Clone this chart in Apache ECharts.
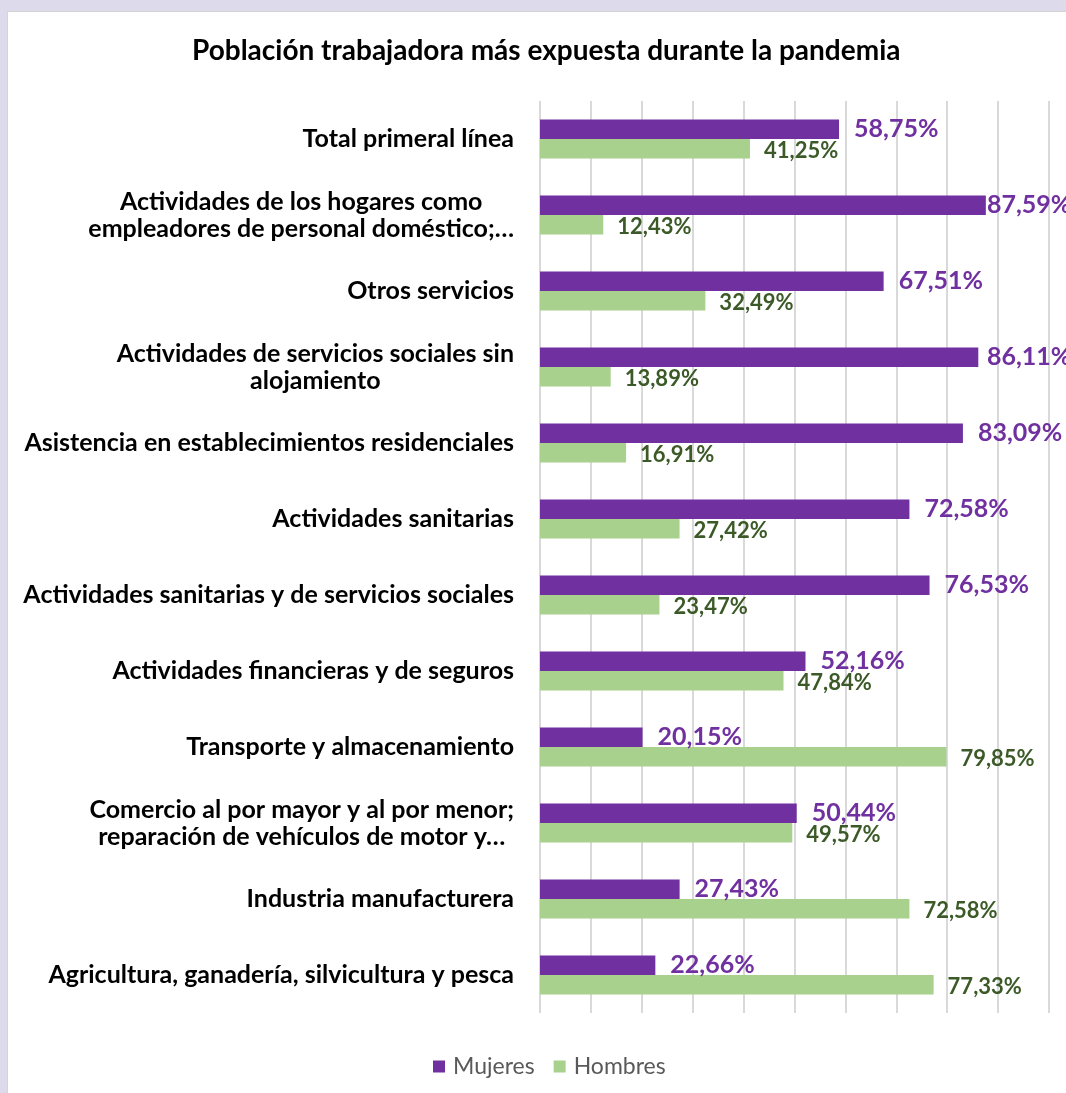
<!DOCTYPE html>
<html>
<head>
<meta charset="utf-8">
<script src="https://cdn.jsdelivr.net/npm/echarts@6/dist/echarts.min.js"></script>
<style>
  html, body { margin: 0; padding: 0; background: #DDDAEB; }
  #panel { position: absolute; left: 7px; top: 11px; width: 1100px; height: 1100px; background: #fff; border-left: 1px solid #d4d4d4; border-top: 1px solid #d4d4d4; }
  #chart { position: absolute; left: 0; top: 0; width: 1066px; height: 1093px; }
</style>
</head>
<body>
<div id="panel"></div>
<div id="chart"></div>
<script>
const titleText = 'Población trabajadora más expuesta durante la pandemia';
const categories = [
  'Total primeral línea',
  'Actividades de los hogares como\nempleadores de personal doméstico;…',
  'Otros servicios',
  'Actividades de servicios sociales sin\nalojamiento',
  'Asistencia en establecimientos residenciales',
  'Actividades sanitarias',
  'Actividades sanitarias y de servicios sociales',
  'Actividades financieras y de seguros',
  'Transporte y almacenamiento',
  'Comercio al por mayor y al por menor;\nreparación de vehículos de motor y…',
  'Industria manufacturera',
  'Agricultura, ganadería, silvicultura y pesca'
];
const mujeres = [58.75, 87.59, 67.51, 86.11, 83.09, 72.58, 76.53, 52.16, 20.15, 50.44, 27.43, 22.66];
const hombres = [41.25, 12.43, 32.49, 13.89, 16.91, 27.42, 23.47, 47.84, 79.85, 49.57, 72.58, 77.33];
const seriesNames = ['Mujeres', 'Hombres'];

const PURPLE = '#7030A0';
const GREEN = '#A9D18E';
const GREEN_TXT = '#3B5A27';
const FONT = 'Lato, "Noto Sans", sans-serif';

const fmt = v => v.toFixed(2).replace('.', ',') + '%';

const chart = echarts.init(document.getElementById('chart'), null, { renderer: 'canvas' });

function buildOption(mujData) {
  return {
    backgroundColor: 'transparent',
    animation: false,
    title: {
      text: titleText,
      left: 187,
      top: 32,
      textStyle: { fontFamily: FONT, fontWeight: 'bold', fontSize: 28, color: '#000' }
    },
    legend: {
      data: seriesNames,
      bottom: 10,
      left: 428,
      icon: 'rect',
      itemWidth: 12,
      itemHeight: 12,
      itemGap: 19,
      textStyle: { fontFamily: FONT, fontSize: 23, color: '#595959', padding: [0, 0, 0, 3] }
    },
    grid: { left: 540, right: 17, top: 101, bottom: 80, containLabel: false, outerBoundsMode: 'none' },
    xAxis: {
      type: 'value',
      min: 0,
      max: 100,
      interval: 10,
      axisLabel: { show: false },
      axisLine: { show: false },
      axisTick: { show: false },
      splitLine: { show: true, lineStyle: { color: '#D9D9D9', width: 2 } }
    },
    yAxis: {
      type: 'category',
      inverse: true,
      data: categories,
      axisLine: { show: false },
      axisTick: { show: false },
      axisLabel: {
        margin: 26,
        color: '#000',
        fontFamily: FONT,
        fontWeight: 'bold',
        fontSize: 25,
        formatter: v => v.split('\n').map(s => '{c|' + s + '}').join('\n'),
        rich: {
          c: { align: 'center', fontFamily: FONT, fontWeight: 'bold', fontSize: 25, lineHeight: 27, color: '#000' }
        }
      }
    },
    series: [
      {
        name: seriesNames[0],
        type: 'bar',
        data: mujData,
        itemStyle: { color: PURPLE },
        barGap: '0%',
        barCategoryGap: '49%',
        label: {
          show: true,
          position: 'right',
          distance: 15,
          color: PURPLE,
          fontFamily: FONT,
          fontWeight: 'bold',
          fontSize: 25,
          formatter: p => fmt(p.value)
        }
      },
      {
        name: seriesNames[1],
        type: 'bar',
        data: hombres,
        itemStyle: { color: GREEN },
        barGap: '0%',
        barCategoryGap: '49%',
        label: {
          show: true,
          position: 'right',
          distance: 14,
          offset: [0, 2],
          color: GREEN_TXT,
          fontFamily: FONT,
          fontWeight: 'bold',
          fontSize: 22,
          formatter: p => fmt(p.value)
        }
      }
    ]
  };
}

chart.setOption(buildOption(mujeres));

// Excel pushes labels that would overflow the chart area back towards the bar
const LABEL_LIMIT = 1070;
const LABEL_W = 83;
const adjusted = mujeres.map((v, i) => {
  const px = chart.convertToPixel({ gridIndex: 0 }, [v, i])[0];
  const d = Math.max(1, Math.min(15, LABEL_LIMIT - LABEL_W - px));
  return { value: v, label: { distance: d } };
});
chart.setOption(buildOption(adjusted));
</script>
</body>
</html>
